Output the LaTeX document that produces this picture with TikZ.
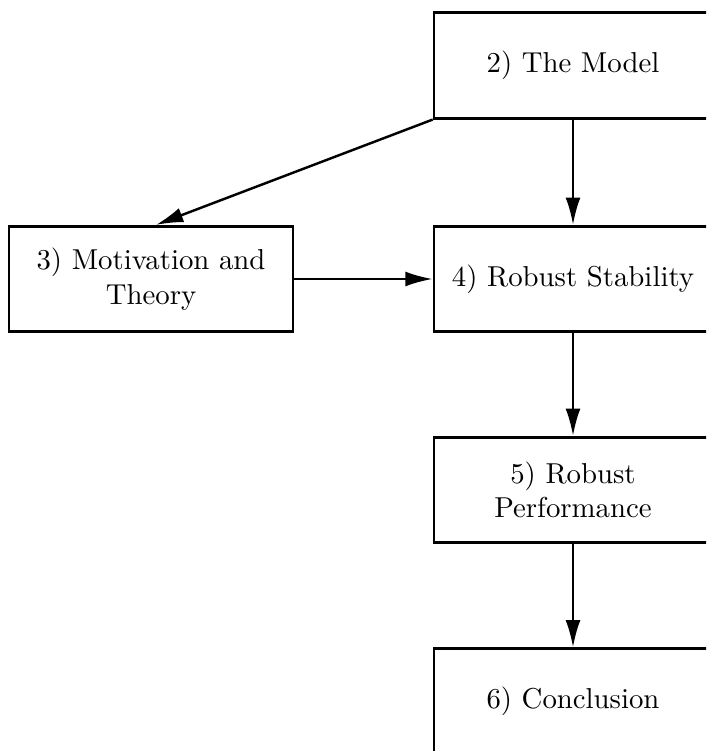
\documentclass[tikz,border=0pt]{standalone}
\usetikzlibrary{arrows.meta}
\begin{document}
\begin{tikzpicture}[x=0.3472pt,y=-0.3472pt,
  box/.style={draw,line width=0.95pt,align=center,inner sep=0pt,minimum width=96.5pt,minimum height=36.6pt},
  arr/.style={line width=0.85pt,-{Latex[length=9.5pt,width=5.2pt]}}]
\useasboundingbox (0,0) rectangle (706,751);
\clip (0,0) rectangle (706,751);
\fill[white] (0,0) rectangle (706,751);
\node[box] (b2) at (573,65.5) {2) The Model};
\node[box,minimum width=98.6pt] (b3) at (151,279) {3) Motivation and\\Theory};
\node[box] (b4) at (573,279) {4) Robust Stability};
\node[box] (b5) at (573,490) {5) Robust\\Performance};
\node[box] (b6) at (573,701.5) {6) Conclusion};
\draw[arr] (b2.south west) -- ([xshift=1.7pt]b3.north);
\draw[arr] (b2.south) -- (b4.north);
\draw[arr] (b3.east) -- (b4.west);
\draw[arr] (b4.south) -- (b5.north);
\draw[arr] (b5.south) -- (b6.north);
\end{tikzpicture}
\end{document}
